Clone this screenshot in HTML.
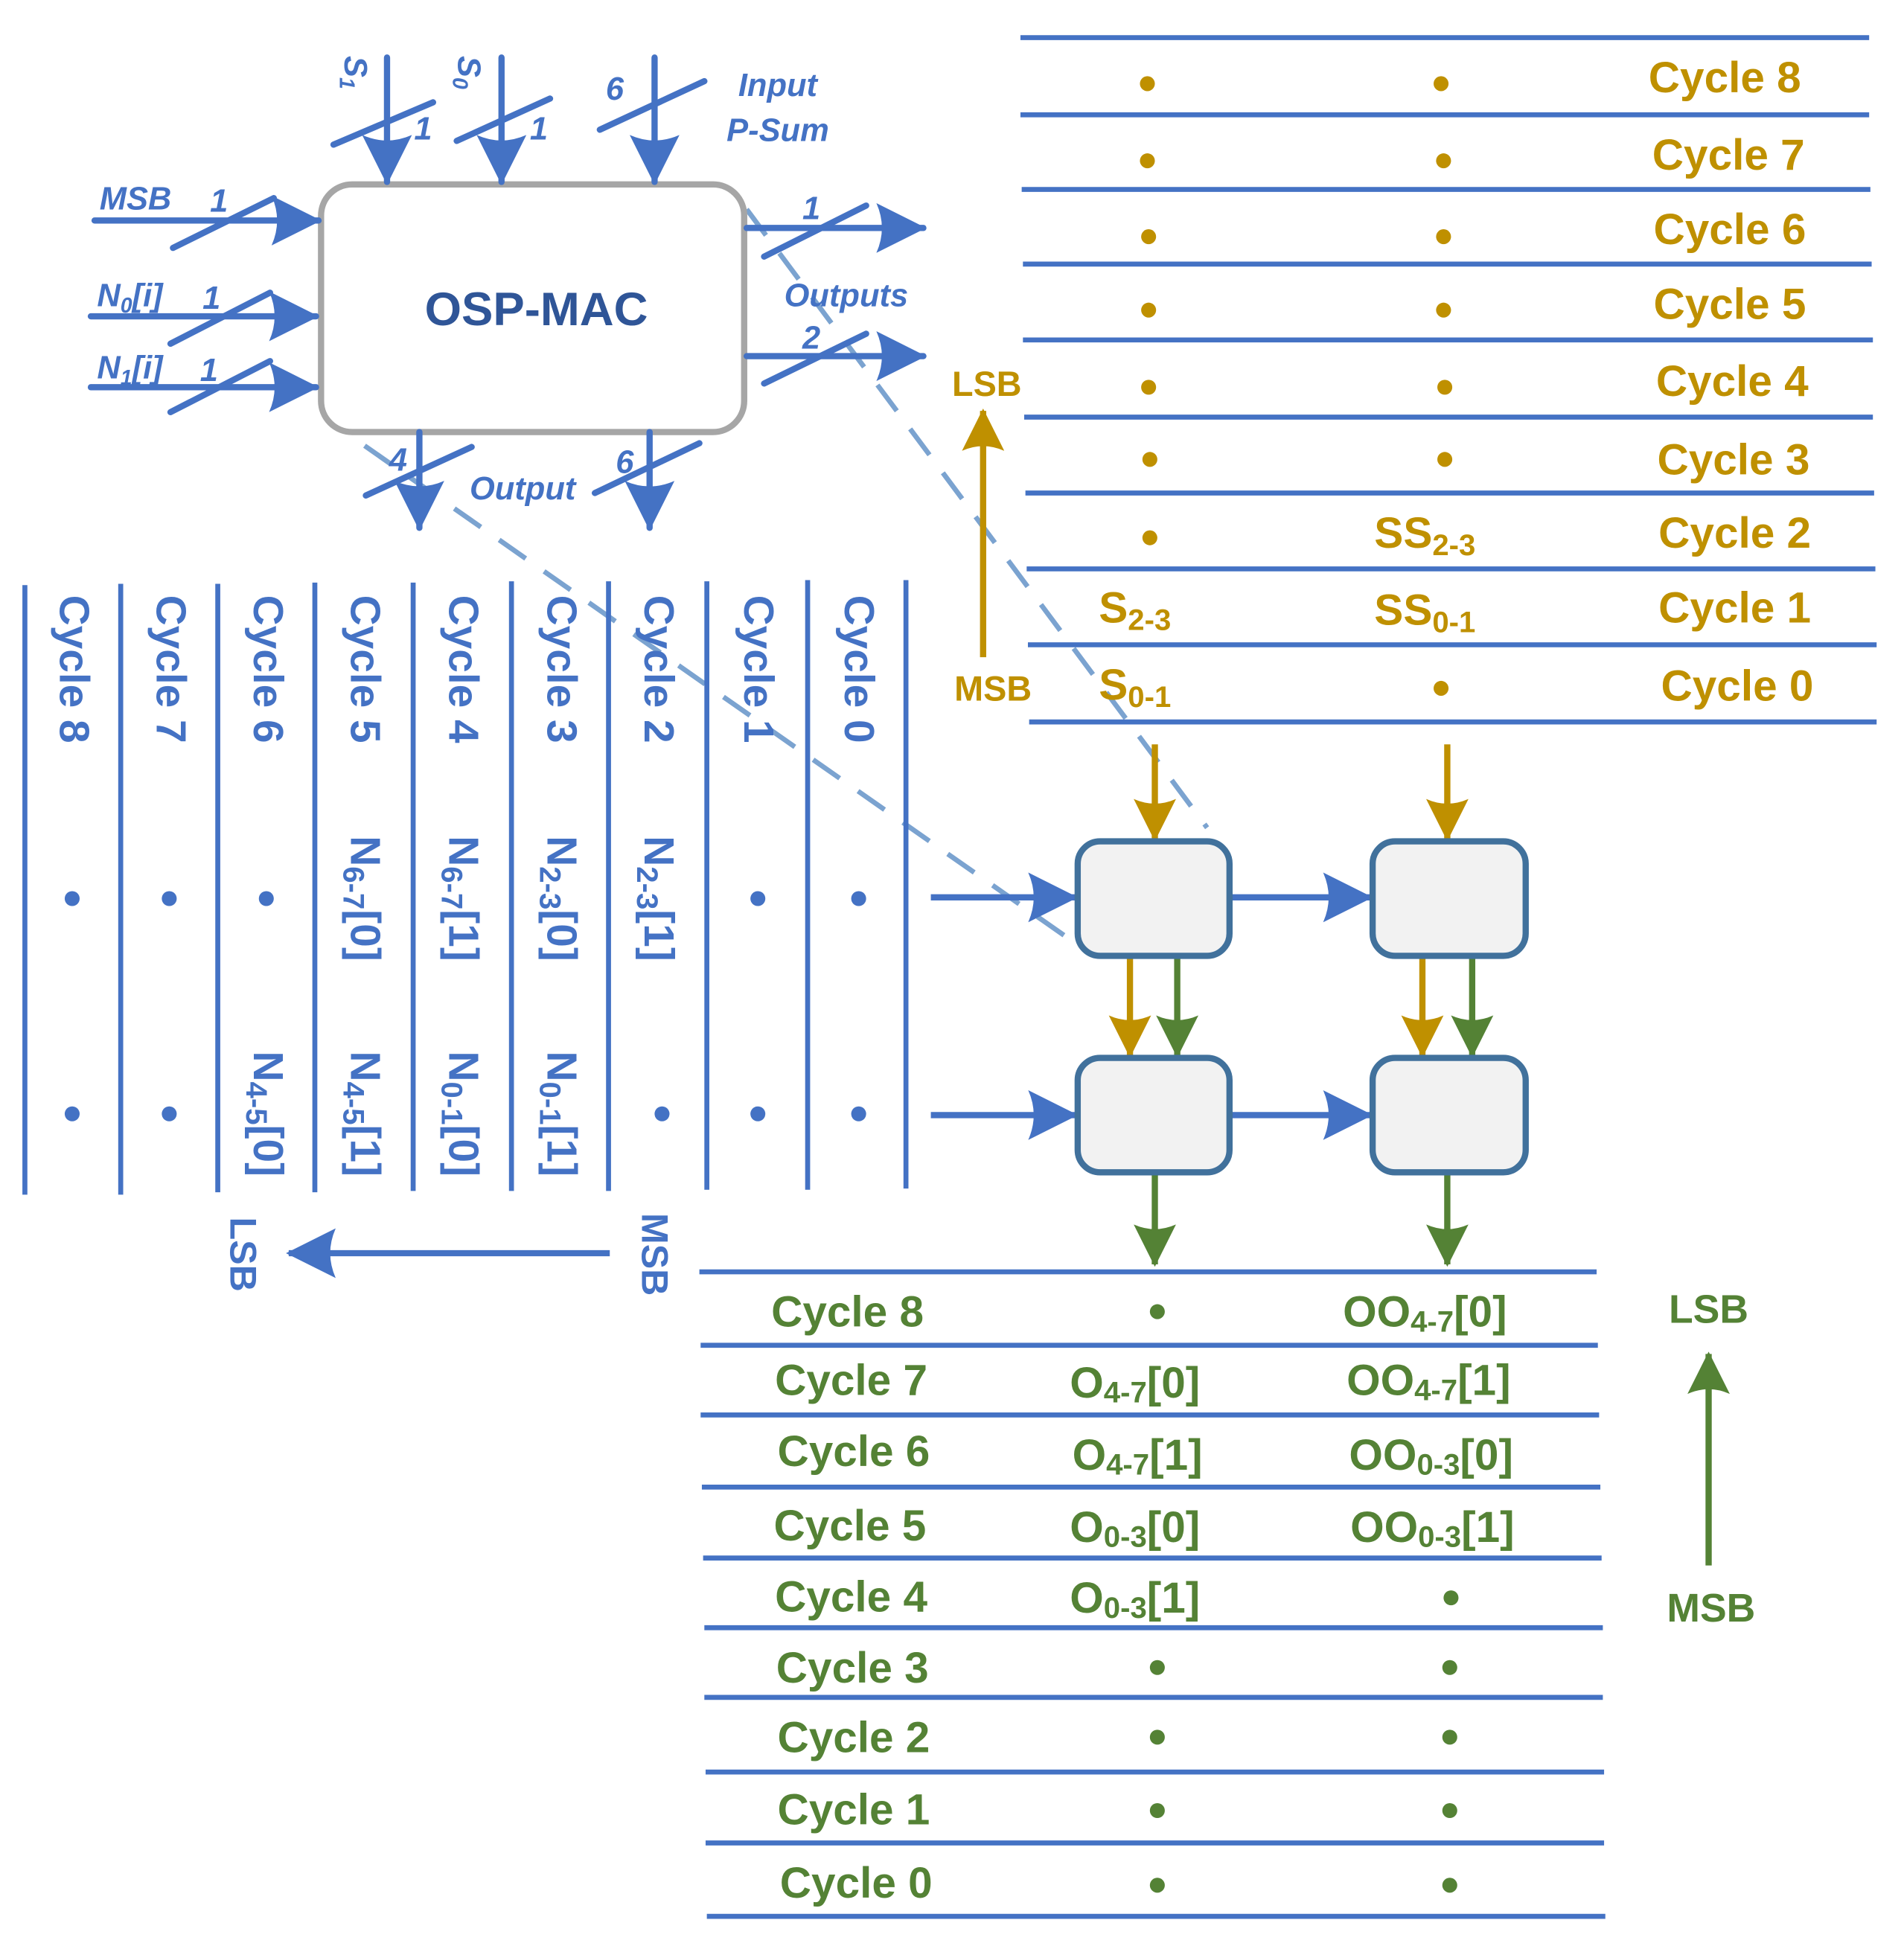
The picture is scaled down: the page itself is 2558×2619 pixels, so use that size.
<!DOCTYPE html>
<html><head><meta charset="utf-8"><style>html,body{margin:0;padding:0;background:#fff}svg{display:block}</style></head><body>
<svg xmlns="http://www.w3.org/2000/svg" width="2558" height="2619" viewBox="0 0 1530 1566" font-family="Liberation Sans, sans-serif" font-weight="bold">
<defs>
<marker id="ab" markerUnits="userSpaceOnUse" markerWidth="40" markerHeight="40" viewBox="0 0 36 36" refX="34" refY="18" orient="auto"><path d="M0,0 L36,18 L0,36 Q8,18 0,0Z" fill="#4472C4"/></marker>
<marker id="ao" markerUnits="userSpaceOnUse" markerWidth="34" markerHeight="34" viewBox="0 0 36 36" refX="34" refY="18" orient="auto"><path d="M0,0 L36,18 L0,36 Q8,18 0,0Z" fill="#BF9000"/></marker>
<marker id="ag" markerUnits="userSpaceOnUse" markerWidth="34" markerHeight="34" viewBox="0 0 36 36" refX="34" refY="18" orient="auto"><path d="M0,0 L36,18 L0,36 Q8,18 0,0Z" fill="#548235"/></marker>
</defs>

<g stroke="#7BA3D0" stroke-width="4" stroke-dasharray="26,18" fill="none">
<line x1="600" y1="168" x2="970" y2="665"/>
<line x1="293" y1="358" x2="870" y2="762"/>
</g>

<rect x="258" y="148" width="340" height="199" rx="25" fill="#fff" stroke="#A6A6A6" stroke-width="5"/>
<text x="431" y="261" text-anchor="middle" font-size="38" fill="#2F5597">OSP-MAC</text>

<g stroke="#4472C4" stroke-width="5" fill="none" stroke-linecap="round">
<line x1="311" y1="46" x2="311" y2="146" marker-end="url(#ab)"/>
<line x1="403" y1="46" x2="403" y2="146" marker-end="url(#ab)"/>
<line x1="526" y1="46" x2="526" y2="146" marker-end="url(#ab)"/>
<line x1="268" y1="116" x2="348" y2="82"/>
<line x1="367" y1="113" x2="442" y2="79"/>
<line x1="482" y1="104" x2="566" y2="65"/>
<line x1="76" y1="177" x2="256" y2="177" marker-end="url(#ab)"/>
<line x1="139" y1="199" x2="220" y2="159"/>
<line x1="73" y1="254" x2="254" y2="254" marker-end="url(#ab)"/>
<line x1="137" y1="276" x2="217" y2="235"/>
<line x1="73" y1="311" x2="254" y2="311" marker-end="url(#ab)"/>
<line x1="137" y1="331" x2="217" y2="290"/>
<line x1="600" y1="183" x2="742" y2="183" marker-end="url(#ab)"/>
<line x1="614" y1="206" x2="696" y2="165"/>
<line x1="600" y1="286" x2="742" y2="286" marker-end="url(#ab)"/>
<line x1="614" y1="308" x2="696" y2="268"/>
<line x1="337" y1="347" x2="337" y2="424" marker-end="url(#ab)"/>
<line x1="294" y1="398" x2="379" y2="359"/>
<line x1="522" y1="347" x2="522" y2="424" marker-end="url(#ab)"/>
<line x1="478" y1="396" x2="562" y2="356"/>
</g>
<g fill="#4472C4" font-style="italic" font-size="26">
<text transform="translate(277,58) rotate(90)" text-anchor="middle">S<tspan font-size="17" dy="4">1</tspan></text>
<text transform="translate(368,58) rotate(90)" text-anchor="middle">S<tspan font-size="17" dy="4">0</tspan></text>
<text x="340" y="112" text-anchor="middle">1</text>
<text x="433" y="112" text-anchor="middle">1</text>
<text x="494" y="80" text-anchor="middle">6</text>
<text x="625" y="77" text-anchor="middle">Input</text>
<text x="625" y="113" text-anchor="middle">P-Sum</text>
<text x="80" y="168">MSB</text>
<text x="176" y="170" text-anchor="middle">1</text>
<text x="78" y="246">N<tspan font-size="17" dy="5">0</tspan><tspan dy="-5">[i]</tspan></text>
<text x="170" y="248" text-anchor="middle">1</text>
<text x="78" y="304">N<tspan font-size="17" dy="5">1</tspan><tspan dy="-5">[i]</tspan></text>
<text x="168" y="306" text-anchor="middle">1</text>
<text x="652" y="176" text-anchor="middle">1</text>
<text x="680" y="246" text-anchor="middle">Outputs</text>
<text x="652" y="280" text-anchor="middle">2</text>
<text x="320" y="378" text-anchor="middle">4</text>
<text x="502" y="380" text-anchor="middle">6</text>
<text x="420" y="401" text-anchor="middle">Output</text>
</g>

<g stroke="#4472C4" stroke-width="4">
<line x1="820" y1="30" x2="1502" y2="30"/>
<line x1="820" y1="92" x2="1502" y2="92"/>
<line x1="821" y1="152" x2="1503" y2="152"/>
<line x1="822" y1="212" x2="1504" y2="212"/>
<line x1="822" y1="273" x2="1505" y2="273"/>
<line x1="823" y1="335" x2="1505" y2="335"/>
<line x1="824" y1="396" x2="1506" y2="396"/>
<line x1="825" y1="457" x2="1507" y2="457"/>
<line x1="826" y1="518" x2="1508" y2="518"/>
<line x1="827" y1="580" x2="1508" y2="580"/>
</g>
<g fill="#BF9000" font-size="35" text-anchor="middle">
<text x="1386" y="74">Cycle 8</text>
<text x="1389" y="136">Cycle 7</text>
<text x="1390" y="196">Cycle 6</text>
<text x="1390" y="256">Cycle 5</text>
<text x="1392" y="318">Cycle 4</text>
<text x="1393" y="381">Cycle 3</text>
<text x="1394" y="440">Cycle 2</text>
<text x="1394" y="500">Cycle 1</text>
<text x="1396" y="563">Cycle 0</text>
<circle cx="922" cy="67" r="6"/><circle cx="1158" cy="67" r="6"/>
<circle cx="922" cy="129" r="6"/><circle cx="1160" cy="129" r="6"/>
<circle cx="923" cy="190" r="6"/><circle cx="1160" cy="190" r="6"/>
<circle cx="923" cy="249" r="6"/><circle cx="1160" cy="249" r="6"/>
<circle cx="923" cy="311" r="6"/><circle cx="1161" cy="311" r="6"/>
<circle cx="924" cy="369" r="6"/><circle cx="1161" cy="369" r="6"/>
<circle cx="924" cy="432" r="6"/>
<circle cx="1158" cy="553" r="6"/>
<text x="1145" y="440">SS<tspan font-size="24" dy="6">2-3</tspan></text>
<text x="912" y="500">S<tspan font-size="24" dy="6">2-3</tspan></text>
<text x="1145" y="502">SS<tspan font-size="24" dy="6">0-1</tspan></text>
<text x="912" y="562">S<tspan font-size="24" dy="6">0-1</tspan></text>
<text x="793" y="318" font-size="28">LSB</text>
<text x="798" y="563" font-size="28">MSB</text>
</g>
<line x1="790" y1="528" x2="790" y2="330" stroke="#BF9000" stroke-width="5" marker-end="url(#ao)"/>

<g stroke="#4472C4" stroke-width="4">
<line x1="20" y1="470" x2="20" y2="960"/>
<line x1="97" y1="469" x2="97" y2="960"/>
<line x1="175" y1="469" x2="175" y2="958"/>
<line x1="253" y1="468" x2="253" y2="958"/>
<line x1="332" y1="468" x2="332" y2="957"/>
<line x1="411" y1="467" x2="411" y2="957"/>
<line x1="489" y1="467" x2="489" y2="957"/>
<line x1="568" y1="467" x2="568" y2="956"/>
<line x1="649" y1="466" x2="649" y2="956"/>
<line x1="728" y1="466" x2="728" y2="955"/>
</g>
<g fill="#4472C4" font-size="34">
<text transform="translate(48,478) rotate(90)">Cycle 8</text>
<text transform="translate(126,478) rotate(90)">Cycle 7</text>
<text transform="translate(204,478) rotate(90)">Cycle 6</text>
<text transform="translate(282,478) rotate(90)">Cycle 5</text>
<text transform="translate(361,478) rotate(90)">Cycle 4</text>
<text transform="translate(440,478) rotate(90)">Cycle 3</text>
<text transform="translate(518,478) rotate(90)">Cycle 2</text>
<text transform="translate(598,478) rotate(90)">Cycle 1</text>
<text transform="translate(679,478) rotate(90)">Cycle 0</text>
<g text-anchor="middle">
<text transform="translate(282,722) rotate(90)">N<tspan font-size="24" dy="6">6-7</tspan><tspan dy="-6">[0]</tspan></text>
<text transform="translate(361,722) rotate(90)">N<tspan font-size="24" dy="6">6-7</tspan><tspan dy="-6">[1]</tspan></text>
<text transform="translate(440,722) rotate(90)">N<tspan font-size="24" dy="6">2-3</tspan><tspan dy="-6">[0]</tspan></text>
<text transform="translate(518,722) rotate(90)">N<tspan font-size="24" dy="6">2-3</tspan><tspan dy="-6">[1]</tspan></text>
<text transform="translate(204,895) rotate(90)">N<tspan font-size="24" dy="6">4-5</tspan><tspan dy="-6">[0]</tspan></text>
<text transform="translate(282,895) rotate(90)">N<tspan font-size="24" dy="6">4-5</tspan><tspan dy="-6">[1]</tspan></text>
<text transform="translate(361,895) rotate(90)">N<tspan font-size="24" dy="6">0-1</tspan><tspan dy="-6">[0]</tspan></text>
<text transform="translate(440,895) rotate(90)">N<tspan font-size="24" dy="6">0-1</tspan><tspan dy="-6">[1]</tspan></text>
<text transform="translate(185,1008) rotate(90)" font-size="30">LSB</text>
<text transform="translate(516,1008) rotate(90)" font-size="30">MSB</text>
</g>
<circle cx="58" cy="722" r="6"/><circle cx="136" cy="722" r="6"/><circle cx="214" cy="722" r="6"/>
<circle cx="609" cy="722" r="6"/><circle cx="690" cy="722" r="6"/>
<circle cx="58" cy="895" r="6"/><circle cx="136" cy="895" r="6"/>
<circle cx="532" cy="895" r="6"/><circle cx="609" cy="895" r="6"/><circle cx="690" cy="895" r="6"/>
</g>
<line x1="490" y1="1007" x2="232" y2="1007" stroke="#4472C4" stroke-width="5" marker-end="url(#ab)"/>

<g stroke-width="5" fill="none">
<line x1="748" y1="721" x2="864" y2="721" stroke="#4472C4" marker-end="url(#ab)"/>
<line x1="990" y1="721" x2="1101" y2="721" stroke="#4472C4" marker-end="url(#ab)"/>
<line x1="748" y1="896" x2="864" y2="896" stroke="#4472C4" marker-end="url(#ab)"/>
<line x1="990" y1="896" x2="1101" y2="896" stroke="#4472C4" marker-end="url(#ab)"/>
<line x1="928" y1="598" x2="928" y2="674" stroke="#BF9000" marker-end="url(#ao)"/>
<line x1="1163" y1="598" x2="1163" y2="674" stroke="#BF9000" marker-end="url(#ao)"/>
<line x1="908" y1="770" x2="908" y2="848" stroke="#BF9000" marker-end="url(#ao)"/>
<line x1="946" y1="770" x2="946" y2="848" stroke="#548235" marker-end="url(#ag)"/>
<line x1="1143" y1="770" x2="1143" y2="848" stroke="#BF9000" marker-end="url(#ao)"/>
<line x1="1183" y1="770" x2="1183" y2="848" stroke="#548235" marker-end="url(#ag)"/>
<line x1="928" y1="944" x2="928" y2="1016" stroke="#548235" marker-end="url(#ag)"/>
<line x1="1163" y1="944" x2="1163" y2="1016" stroke="#548235" marker-end="url(#ag)"/>
</g>
<g fill="#F2F2F2" stroke="#41719C" stroke-width="5">
<rect x="866" y="676" width="122" height="92" rx="18"/>
<rect x="1103" y="676" width="123" height="92" rx="18"/>
<rect x="866" y="850" width="122" height="92" rx="18"/>
<rect x="1103" y="850" width="123" height="92" rx="18"/>
</g>

<g stroke="#4472C4" stroke-width="4">
<line x1="562" y1="1022" x2="1283" y2="1022"/>
<line x1="563" y1="1081" x2="1284" y2="1081"/>
<line x1="563" y1="1137" x2="1285" y2="1137"/>
<line x1="564" y1="1195" x2="1286" y2="1195"/>
<line x1="565" y1="1252" x2="1287" y2="1252"/>
<line x1="566" y1="1308" x2="1288" y2="1308"/>
<line x1="566" y1="1364" x2="1288" y2="1364"/>
<line x1="567" y1="1424" x2="1289" y2="1424"/>
<line x1="567" y1="1481" x2="1289" y2="1481"/>
<line x1="568" y1="1540" x2="1290" y2="1540"/>
</g>
<g fill="#548235" font-size="35" text-anchor="middle">
<text x="681" y="1066">Cycle 8</text>
<text x="684" y="1121">Cycle 7</text>
<text x="686" y="1178">Cycle 6</text>
<text x="683" y="1238">Cycle 5</text>
<text x="684" y="1295">Cycle 4</text>
<text x="685" y="1352">Cycle 3</text>
<text x="686" y="1408">Cycle 2</text>
<text x="686" y="1466">Cycle 1</text>
<text x="688" y="1525">Cycle 0</text>
<circle cx="930" cy="1054" r="6"/>
<text x="1145" y="1066">OO<tspan font-size="24" dy="4">4-7</tspan><tspan dy="-4">[0]</tspan></text>
<text x="912" y="1123">O<tspan font-size="24" dy="4">4-7</tspan><tspan dy="-4">[0]</tspan></text>
<text x="1148" y="1121">OO<tspan font-size="24" dy="4">4-7</tspan><tspan dy="-4">[1]</tspan></text>
<text x="914" y="1181">O<tspan font-size="24" dy="4">4-7</tspan><tspan dy="-4">[1]</tspan></text>
<text x="1150" y="1181">OO<tspan font-size="24" dy="4">0-3</tspan><tspan dy="-4">[0]</tspan></text>
<text x="912" y="1239">O<tspan font-size="24" dy="4">0-3</tspan><tspan dy="-4">[0]</tspan></text>
<text x="1151" y="1239">OO<tspan font-size="24" dy="4">0-3</tspan><tspan dy="-4">[1]</tspan></text>
<text x="912" y="1296">O<tspan font-size="24" dy="4">0-3</tspan><tspan dy="-4">[1]</tspan></text>
<circle cx="1166" cy="1284" r="6"/>
<circle cx="930" cy="1340" r="6"/><circle cx="1165" cy="1340" r="6"/>
<circle cx="930" cy="1396" r="6"/><circle cx="1165" cy="1396" r="6"/>
<circle cx="930" cy="1455" r="6"/><circle cx="1165" cy="1455" r="6"/>
<circle cx="930" cy="1515" r="6"/><circle cx="1165" cy="1515" r="6"/>
<text x="1373" y="1063" font-size="32">LSB</text>
<text x="1375" y="1303" font-size="32">MSB</text>
</g>
<line x1="1373" y1="1258" x2="1373" y2="1088" stroke="#548235" stroke-width="5" marker-end="url(#ag)"/>
</svg>
</body></html>
